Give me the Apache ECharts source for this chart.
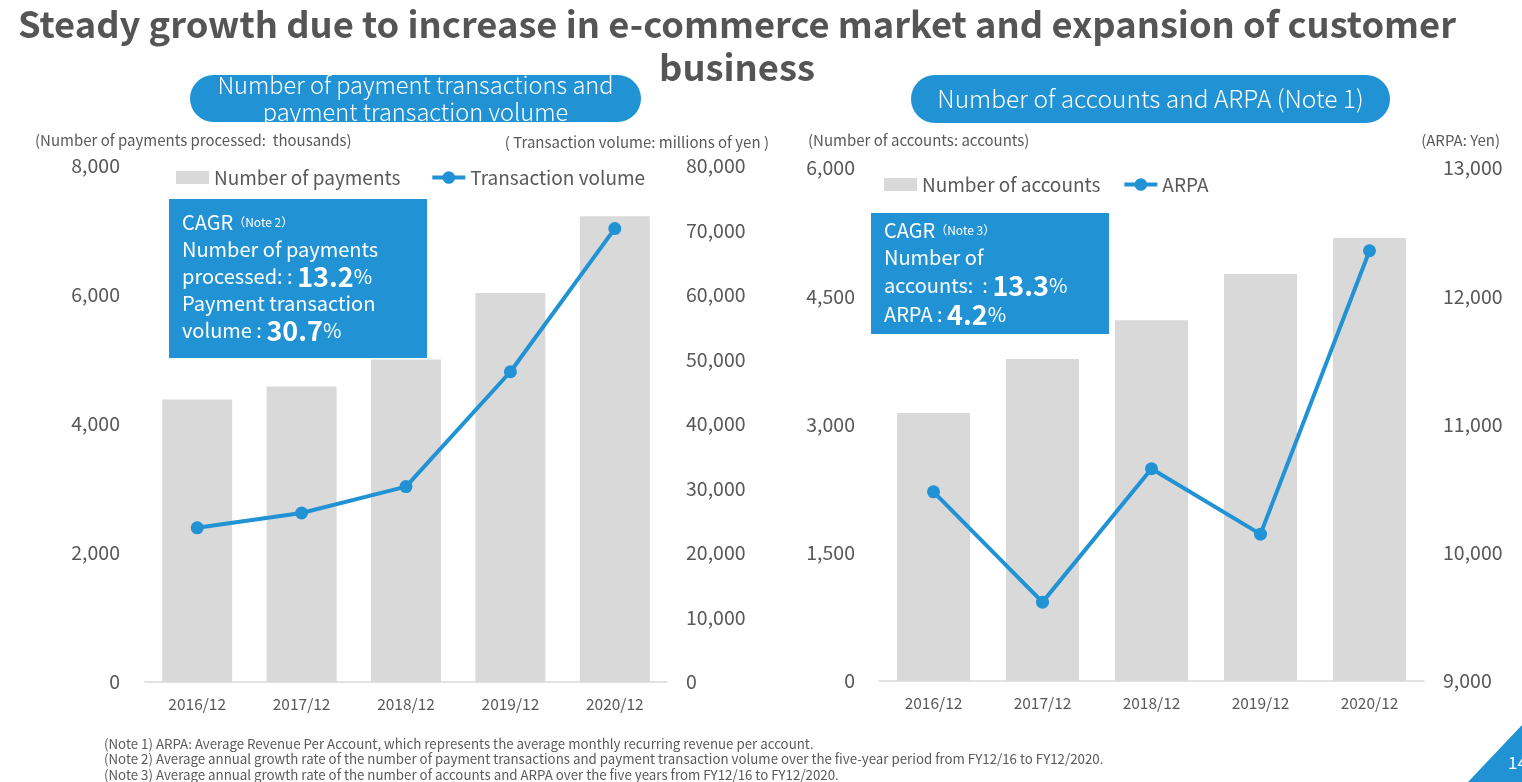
<!DOCTYPE html>
<html>
<head>
<meta charset="utf-8">
<script src="https://cdn.jsdelivr.net/npm/echarts@6/dist/echarts.min.js"></script>
<style>
html,body{margin:0;padding:0;background:#fff;}
#c{width:1522px;height:782px;}
</style>
</head>
<body>
<div id="c"></div>
<script>
// ---- data ----
const categories = ['2016/12', '2017/12', '2018/12', '2019/12', '2020/12'];
const paymentsCount = [4380, 4580, 5000, 6030, 7220];           // thousands
const transactionVolume = [23900, 26200, 30300, 48100, 70300]; // millions of yen
const accountsCount = [3135, 3765, 4220, 4760, 5180];           // accounts
const arpaValues = [10475, 9615, 10655, 10145, 12355];          // yen

const FONT = '"Noto Sans CJK JP", "Noto Sans", sans-serif';
const GRAY = '#595959';
const BLUE = '#2193d5';
const BAR = '#d9d9d9';
const LINE_ICON = 'path://M0,4.5H34V8.5H0Z M10.5,6.5A6.5,6.5 0 1 1 23.5,6.5A6.5,6.5 0 1 1 10.5,6.5Z';

const chart = echarts.init(document.getElementById('c'), null, {renderer: 'canvas'});

function valAxis(grid, min, max, interval, pos, margin) {
  return {
    type: 'value', gridIndex: grid, min: min, max: max, interval: interval, position: pos,
    axisLine: {show: false}, axisTick: {show: false}, splitLine: {show: false},
    axisLabel: {color: GRAY, fontSize: 19.5, fontFamily: FONT, margin: margin,
      formatter: v => v.toLocaleString('en-US')}
  };
}
function catAxis(grid) {
  return {
    type: 'category', gridIndex: grid, data: categories,
    axisLine: {lineStyle: {color: '#d9d9d9', width: 1.5}}, axisTick: {show: false},
    axisLabel: {color: GRAY, fontSize: 15.5, fontFamily: FONT, margin: 14}
  };
}

const legendText = {color: GRAY, fontSize: 19, fontFamily: FONT};

const option = {
  animation: false,
  textStyle: {fontFamily: FONT},
  grid: [
    {left: 145, right: 855, top: 166, bottom: 100},
    {left: 879, right: 98, top: 168, bottom: 101}
  ],
  xAxis: [catAxis(0), catAxis(1)],
  yAxis: [
    valAxis(0, 0, 8000, 2000, 'left', 25),
    valAxis(0, 0, 80000, 10000, 'right', 19),
    valAxis(1, 0, 6000, 1500, 'left', 24),
    valAxis(1, 9000, 13000, 1000, 'right', 19)
  ],
  legend: [
    {data: [{name: 'Number of payments', icon: 'rect'}, {name: 'Transaction volume', icon: LINE_ICON}],
      left: 171, top: 163, itemGap: 32, itemWidth: 33, itemHeight: 13, textStyle: legendText},
    {data: [{name: 'Number of accounts', icon: 'rect'}, {name: 'ARPA', icon: LINE_ICON}],
      left: 879, top: 170, itemGap: 24, itemWidth: 33, itemHeight: 13, textStyle: legendText}
  ],
  series: [
    {name: 'Number of payments', type: 'bar', xAxisIndex: 0, yAxisIndex: 0, data: paymentsCount,
      barCategoryGap: '33%', itemStyle: {color: BAR}},
    {name: 'Transaction volume', type: 'line', xAxisIndex: 0, yAxisIndex: 1, data: transactionVolume,
      symbol: 'circle', symbolSize: 13, lineStyle: {color: BLUE, width: 4}, itemStyle: {color: BLUE}},
    {name: 'Number of accounts', type: 'bar', xAxisIndex: 1, yAxisIndex: 2, data: accountsCount,
      barCategoryGap: '33%', itemStyle: {color: BAR}},
    {name: 'ARPA', type: 'line', xAxisIndex: 1, yAxisIndex: 3, data: arpaValues,
      symbol: 'circle', symbolSize: 13, lineStyle: {color: BLUE, width: 4}, itemStyle: {color: BLUE}}
  ],
  graphic: [
    // main title
    {type: 'text', x: 737, y: 3, z: 10,
      style: {text: 'Steady growth due to increase in e-commerce market and expansion of customer\nbusiness',
        font: 'bold 36.3px ' + FONT, fill: '#555555', textAlign: 'center', lineHeight: 43}},
    // left pill
    {type: 'rect', shape: {x: 190, y: 75, width: 451, height: 47, r: 23.5}, style: {fill: BLUE}, z: 5},
    {type: 'text', x: 415.5, y: 98.5, z: 6,
      style: {text: 'Number of payment transactions and\npayment transaction volume', font: '300 23.6px ' + FONT,
        fill: '#fff', textAlign: 'center', textVerticalAlign: 'middle', lineHeight: 27}},
    // right pill
    {type: 'rect', shape: {x: 911, y: 75, width: 479, height: 48, r: 24}, style: {fill: BLUE}, z: 5},
    {type: 'text', x: 1150.5, y: 99, z: 6,
      style: {text: 'Number of accounts and ARPA (Note 1)', font: '300 24.5px ' + FONT,
        fill: '#fff', textAlign: 'center', textVerticalAlign: 'middle'}},
    // unit labels
    {type: 'text', x: 35, y: 140, style: {text: '(Number of payments processed:  thousands)', font: '15px ' + FONT, fill: GRAY, textVerticalAlign: 'middle'}},
    {type: 'text', x: 769, y: 142, style: {text: '( Transaction volume: millions of yen )', font: '15px ' + FONT, fill: GRAY, textAlign: 'right', textVerticalAlign: 'middle'}},
    {type: 'text', x: 808, y: 140, style: {text: '(Number of accounts: accounts)', font: '15px ' + FONT, fill: GRAY, textVerticalAlign: 'middle'}},
    {type: 'text', x: 1500, y: 140, style: {text: '(ARPA: Yen)', font: '15px ' + FONT, fill: GRAY, textAlign: 'right', textVerticalAlign: 'middle'}},
    // left CAGR box
    {type: 'rect', shape: {x: 169, y: 199, width: 258, height: 159}, style: {fill: BLUE}, z: 20},
    {type: 'text', x: 182, y: 209, z: 21,
      style: {
        text: '{a|CAGR}{s|（Note 2）}\n{a|Number of payments}\n{a|processed: : }{b|13.2}{a|%}\n{a|Payment transaction}\n{a|volume : }{b|30.7}{a|%}',
        fill: '#fff', lineHeight: 27,
        rich: {
          a: {fontSize: 20, fill: '#fff', fontFamily: FONT, lineHeight: 27},
          s: {fontSize: 12, fill: '#fff', fontFamily: FONT, lineHeight: 27},
          b: {fontSize: 27, fontWeight: 'bold', fill: '#fff', fontFamily: FONT, lineHeight: 27}
        }}},
    // right CAGR box
    {type: 'rect', shape: {x: 871, y: 213, width: 238, height: 121}, style: {fill: BLUE}, z: 20},
    {type: 'text', x: 884, y: 217, z: 21,
      style: {
        text: '{a|CAGR}{s|（Note 3）}\n{a|Number of}\n{a|accounts:  : }{b|13.3}{a|%}\n{a|ARPA : }{b|4.2}{a|%}',
        fill: '#fff', lineHeight: 27,
        rich: {
          a: {fontSize: 20, fill: '#fff', fontFamily: FONT, lineHeight: 27},
          s: {fontSize: 12, fill: '#fff', fontFamily: FONT, lineHeight: 27},
          b: {fontSize: 27, fontWeight: 'bold', fill: '#fff', fontFamily: FONT, lineHeight: 29}
        }}},
    // footnotes
    {type: 'text', x: 104, y: 736,
      style: {text: '(Note 1) ARPA: Average Revenue Per Account, which represents the average monthly recurring revenue per account.\n(Note 2) Average annual growth rate of the number of payment transactions and payment transaction volume over the five-year period from FY12/16 to FY12/2020.\n(Note 3) Average annual growth rate of the number of accounts and ARPA over the five years from FY12/16 to FY12/2020.',
        font: '13.3px ' + FONT, fill: GRAY, lineHeight: 15.5}},
    // page corner
    {type: 'polygon', shape: {points: [[1468, 782], [1522, 782], [1522, 725]]}, style: {fill: BLUE}},
    {type: 'text', x: 1508, y: 763, style: {text: '14', font: '17px ' + FONT, fill: '#fff', textVerticalAlign: 'middle'}}
  ]
};
chart.setOption(option);
</script>
</body>
</html>
